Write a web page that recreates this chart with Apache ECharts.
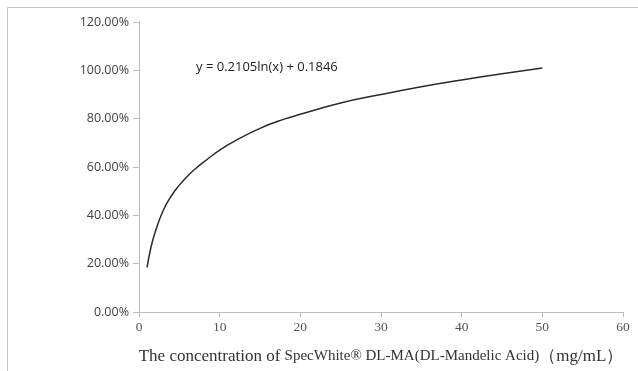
<!DOCTYPE html>
<html><head><meta charset="utf-8">
<script src="https://cdn.jsdelivr.net/npm/echarts@6/dist/echarts.min.js"></script>
<style>html,body{margin:0;padding:0;background:#fff}#c{width:638px;height:371px}</style>
</head><body><div id="c"></div>
<script>
const concentration = [1, 1.5, 2, 3, 4, 5, 6, 7, 8, 10, 12, 15, 18, 20, 25, 30, 35, 40, 45, 50];
const whitening = [18.5, 27.0, 33.0, 42.0, 48.0, 52.5, 56.2, 59.3, 62.0, 67.0, 71.0, 76.0, 79.8, 81.8, 86.5, 90.0, 93.2, 96.0, 98.6, 101.0];
const xTicks = [0, 10, 20, 30, 40, 50, 60];
const yTicks = [0, 20, 40, 60, 80, 100, 120];
const equation = 'y = 0.2105ln(x) + 0.1846';

const chart = echarts.init(document.getElementById('c'));
chart.setOption({
  animation: false,
  grid: {left: 139, right: 15, top: 22, bottom: 59},
  xAxis: {
    type: 'value', min: xTicks[0], max: xTicks[xTicks.length-1], interval: 10,
    axisLine: {lineStyle: {color: '#bdbdbd', width: 1}},
    axisTick: {show: true, length: 5, lineStyle: {color: '#bdbdbd'}},
    splitLine: {show: false},
    axisLabel: {fontFamily: 'Liberation Serif', fontSize: 13.5, color: '#555', margin: 8},
    name: '{a|The concentration of }{b|SpecWhite® DL-MA(DL-Mandelic Acid)}{a|（mg/mL）}',
    nameLocation: 'middle', nameGap: 36,
    nameTextStyle: {
      rich: {
        a: {fontFamily: 'Liberation Serif', fontSize: 17, color: '#333'},
        b: {fontFamily: 'Liberation Serif', fontSize: 15, color: '#333'}
      }
    }
  },
  yAxis: {
    type: 'value', min: yTicks[0], max: yTicks[yTicks.length-1], interval: 20,
    axisLine: {show: true, lineStyle: {color: '#bdbdbd', width: 1}},
    axisTick: {show: true, length: 6, lineStyle: {color: '#bdbdbd'}},
    splitLine: {show: false},
    axisLabel: {fontFamily: 'Open Sans', fontSize: 12.5, color: '#404040', margin: 10,
      formatter: v => v.toFixed(2) + '%'}
  },
  graphic: [
    {type: 'line', shape: {x1: 7.5, y1: 7.5, x2: 638, y2: 7.5}, style: {stroke: '#c4c4c4', lineWidth: 1}},
    {type: 'line', shape: {x1: 7.5, y1: 7.5, x2: 7.5, y2: 371}, style: {stroke: '#c4c4c4', lineWidth: 1}},
    {type: 'text', left: 196, top: 61, style: {text: equation, font: '13px "Open Sans"', fill: '#222'}}
  ],
  series: [{
    type: 'line', smooth: 0.5, symbol: 'none',
    data: concentration.map((x, i) => [x, whitening[i]]),
    lineStyle: {color: '#2a2a2a', width: 1.5}
  }]
});
</script></body></html>
